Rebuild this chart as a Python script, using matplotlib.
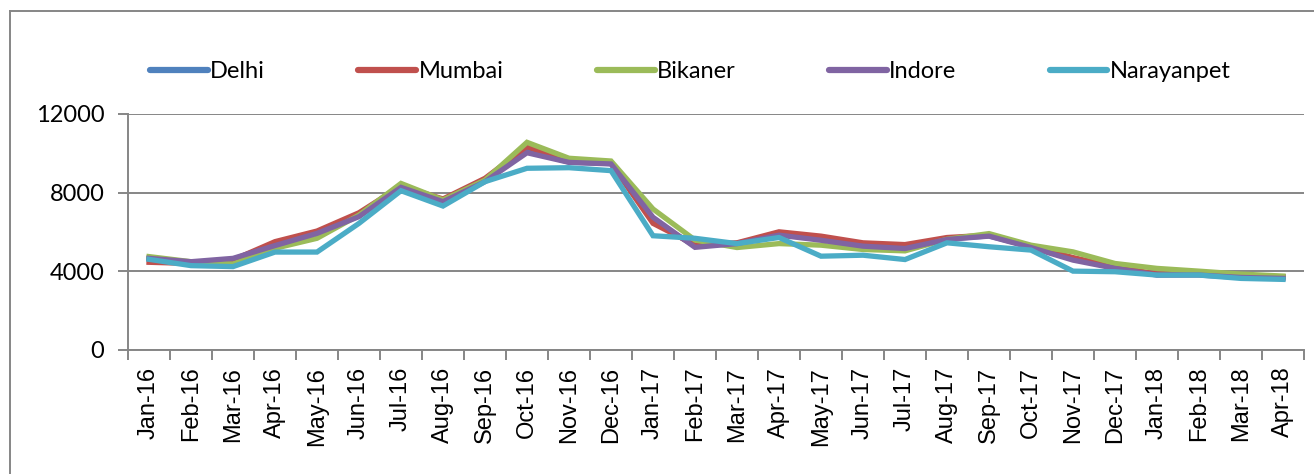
import numpy as np
import matplotlib.pyplot as plt
from matplotlib.lines import Line2D

months = ["Jan-16", "Feb-16", "Mar-16", "Apr-16", "May-16", "Jun-16", "Jul-16",
          "Aug-16", "Sep-16", "Oct-16", "Nov-16", "Dec-16", "Jan-17", "Feb-17",
          "Mar-17", "Apr-17", "May-17", "Jun-17", "Jul-17", "Aug-17", "Sep-17",
          "Oct-17", "Nov-17", "Dec-17", "Jan-18", "Feb-18", "Mar-18", "Apr-18"]

delhi = [4650, 4450, 4600, 5400, 6000, 6850, 8300, 7600, 8650, 10150, 9550, 9480,
         6600, 5280, 5430, 5900, 5650, 5350, 5250, 5650, 5800, 5250, 4630, 4180,
         3830, 3850, 3750, 3720]
mumbai = [4460, 4400, 4580, 5510, 6050, 6980, 8340, 7680, 8730, 10340, 9580, 9490,
          6440, 5340, 5450, 6010, 5790, 5450, 5360, 5720, 5840, 5280, 4700, 4230,
          3860, 3890, 3810, 3720]
bikaner = [4750, 4490, 4370, 5170, 5680, 6860, 8470, 7630, 8640, 10560, 9750, 9610,
           7170, 5590, 5210, 5410, 5330, 5110, 5040, 5630, 5920, 5330, 4990, 4400,
           4150, 4010, 3860, 3760]
indore = [4660, 4490, 4660, 5310, 5930, 6780, 8270, 7540, 8560, 10030, 9540, 9460,
          6750, 5220, 5410, 5840, 5580, 5280, 5160, 5620, 5790, 5210, 4570, 4150,
          3810, 3810, 3690, 3640]
narayanpet = [4610, 4290, 4240, 4980, 4980, 6440, 8100, 7320, 8560, 9240, 9270, 9120,
              5810, 5680, 5410, 5720, 4770, 4820, 4600, 5450, 5250, 5080, 4010, 3980,
              3810, 3810, 3640, 3590]

series = [
    ("Delhi", delhi, "#4F81BD"),
    ("Mumbai", mumbai, "#C0504D"),
    ("Bikaner", bikaner, "#9BBB59"),
    ("Indore", indore, "#8064A2"),
    ("Narayanpet", narayanpet, "#4BACC6"),
]

W, H = 1314, 474
fig = plt.figure(figsize=(W / 100, H / 100), dpi=100)
ax = fig.add_axes([128 / W, 1 - 350 / H, (1304 - 128) / W, (350 - 114) / H])

x = np.arange(len(months))
for name, vals, col in series:
    ax.plot(x, vals, color=col, lw=3.8, label=name, solid_joinstyle="miter")

grid_col = "#868686"
ax.set_xlim(-0.5, len(months) - 0.5)
ax.set_ylim(0, 12000)
ax.set_yticks([0, 4000, 8000, 12000])
ax.yaxis.grid(True, color=grid_col, lw=1.4)
ax.set_axisbelow(True)

ax.set_xticks(x)
ax.set_xticklabels(months, rotation=90, family="Liberation Sans", fontsize=17)
ax.tick_params(axis="x", which="major", length=0, pad=12)
ax.set_xticks(np.arange(-0.5, len(months)), minor=True)
ax.tick_params(axis="x", which="minor", length=7, width=1.4, color=grid_col)
ax.tick_params(axis="y", length=7, width=1.4, color=grid_col, pad=10, labelsize=17)
for lab in ax.get_yticklabels():
    lab.set_family("Lato")

for s in ["top", "right"]:
    ax.spines[s].set_visible(False)
for s in ["left", "bottom"]:
    ax.spines[s].set_color(grid_col)
    ax.spines[s].set_linewidth(1.4)

leg = fig.legend(loc="center left", bbox_to_anchor=(150 / W, 1 - 72 / H), ncol=5,
                 frameon=False, handlelength=2.45, handletextpad=0.1,
                 columnspacing=3.95, borderaxespad=0, borderpad=0,
                 prop={"family": "Lato", "size": 17})
for h in leg.get_lines():
    h.set_linewidth(4.5)
    h.set_solid_capstyle("round")

# outer chart frame
fx, fy = 10 / W, 1 - 11 / H
fig.add_artist(Line2D([fx, fx], [0, fy], color=grid_col, lw=1.4))
fig.add_artist(Line2D([fx, 1], [fy, fy], color=grid_col, lw=1.4))

fig.savefig("out.png", dpi=100)
